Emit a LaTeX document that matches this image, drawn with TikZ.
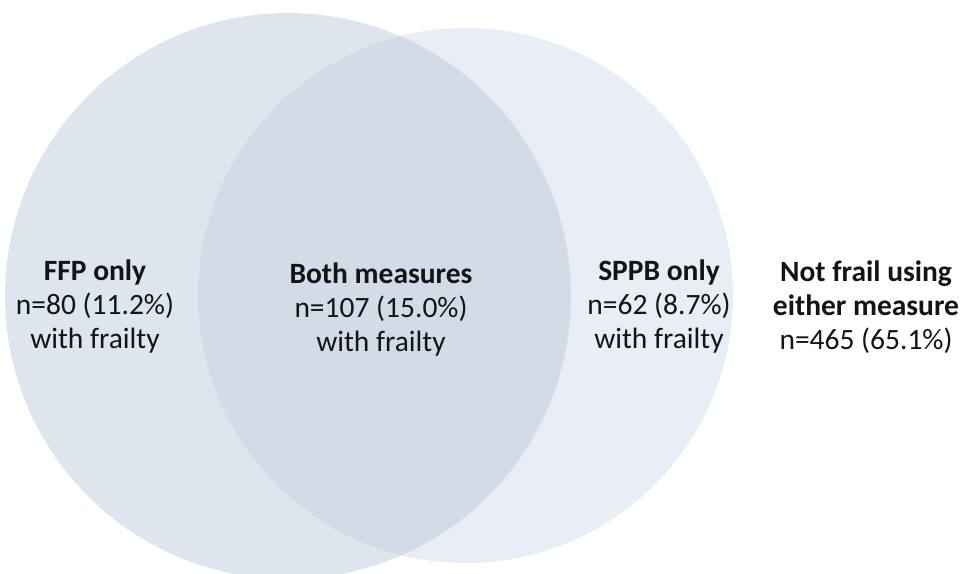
\documentclass[tikz,border=0pt]{standalone}
\usepackage{fontspec}
\setmainfont{Carlito}
\definecolor{leftc}{RGB}{222,229,239}
\definecolor{rightc}{RGB}{233,237,245}
\definecolor{bothc}{RGB}{209,220,232}
\definecolor{txt}{RGB}{20,20,20}
\begin{document}
\begin{tikzpicture}[x=1pt,y=-1pt,
  lbl/.style={align=center,text=txt,inner sep=0pt,font=\fontsize{29.5}{34}\selectfont}]
\useasboundingbox (0,0) rectangle (965,573);
\clip (0,0) rectangle (965,573);
\fill[leftc] (288,296) circle[radius=283];
\fill[rightc] (465.5,295.5) circle[radius=267.5];
\begin{scope}
  \clip (288,296) circle[radius=283];
  \fill[bothc] (465.5,295.5) circle[radius=267.5];
\end{scope}
\node[lbl] (ffp) at (95,307) {\textbf{FFP only}\\n=80 (11.2\%)\\with frailty};
\node[lbl] (both) at (381,310) {\textbf{Both measures}\\n=107 (15.0\%)\\with frailty};
\node[lbl] (sppb) at (659,307) {\textbf{SPPB only}\\n=62 (8.7\%)\\with frailty};
\node[lbl] (none) at (866,307) {\textbf{Not frail using}\\\textbf{either measure}\\n=465 (65.1\%)};
\end{tikzpicture}
\end{document}
